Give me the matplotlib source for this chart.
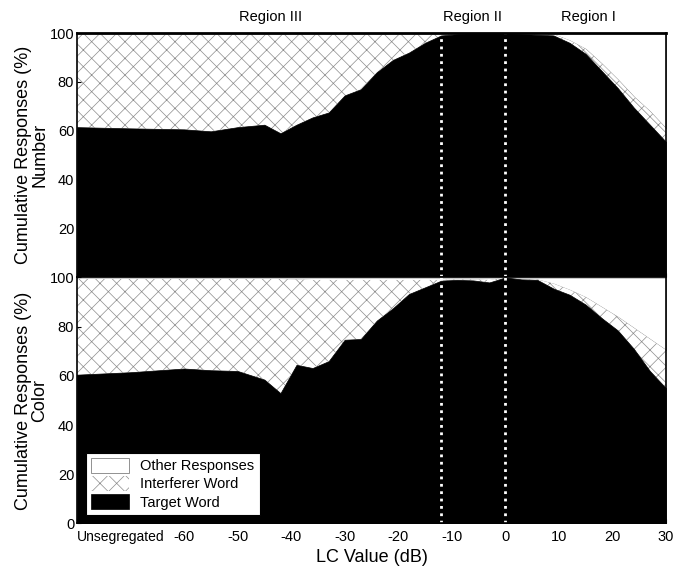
import numpy as np
import matplotlib.pyplot as plt

# LC value (dB); -80 stands for the "Unsegregated" condition
lc = [-80, -70, -60, -55, -50, -45, -42, -39, -36, -33, -30, -27, -24, -21, -18,
      -15, -12, -9, -6, -3, 0, 3, 6, 9, 12, 15, 18, 21, 24, 27, 30]

# cumulative % : target word, target + interferer word (rest = other responses)
num_target = [61.5, 61, 60.6, 59.8, 61.5, 62.5, 59, 62.5, 65.5, 67.5, 74.5, 77, 84, 89, 92,
              96, 99, 99.5, 100, 100, 100, 99.5, 99.3, 99, 96, 91.5, 84.5, 77.5, 69.5, 62.5, 55.5]
num_interf = [99.4, 99.4, 99.4, 99.4, 99.4, 99.4, 99.4, 99.4, 99.4, 99.4, 99.4, 99.4, 99.4, 99.4, 99.4,
              99.4, 99.6, 99.8, 100, 100, 100, 99.8, 99.6, 99.5, 97, 93.5, 87.5, 81, 74, 68, 61]

col_target = [60.5, 61.5, 63, 62.3, 62, 58.5, 53, 64.5, 63.2, 66, 74.7, 75, 82.5, 87.5, 93.3,
              96, 98.7, 99, 98.8, 98, 100, 99.2, 99, 95.5, 93, 89, 83.5, 78.5, 71, 62, 55]
col_interf = [99.4, 99.4, 99.4, 99.4, 99.4, 99.4, 99.4, 99.2, 99, 99, 99, 99, 99, 99, 99,
              99, 99, 99.2, 99.2, 99, 100, 99.4, 99.2, 97.5, 95, 92, 88, 84, 79.5, 75, 70.5]

xticks = [-80, -60, -50, -40, -30, -20, -10, 0, 10, 20, 30]
xticklabels = ['Unsegregated', '-60', '-50', '-40', '-30', '-20', '-10', '0', '10', '20', '30']
regions = ['Region III', 'Region II', 'Region I']
region_x = [-43.8, -6.1, 15.6]
boundaries = [-12, 0]

plt.rcParams['font.family'] = ['Liberation Sans', 'DejaVu Sans']
plt.rcParams['hatch.linewidth'] = 0.5

fig = plt.figure(figsize=(6.86, 5.75), dpi=100)
ax1 = fig.add_axes([0.1122, 0.5174, 0.8586, 0.4252])
ax2 = fig.add_axes([0.1122, 0.0896, 0.8586, 0.4278])


def draw_panel(ax, target, interf, name, yticks):
    ax.fill_between(lc, interf, 100, facecolor='white', edgecolor='0.5', linewidth=0.6,
                    label='Other Responses')
    ax.fill_between(lc, target, interf, facecolor='white', edgecolor='0.55', hatch='xx',
                    linewidth=0, label='Interferer Word')
    ax.fill_between(lc, 0, target, facecolor='black', edgecolor='black', linewidth=0.5,
                    label='Target Word')
    for b in boundaries:
        ax.axvline(b, color='white', linestyle=':', linewidth=2)
    ax.set_xlim(-80, 30)
    ax.set_ylim(0, 100)
    ax.set_yticks(yticks)
    ax.tick_params(axis='both', direction='in', length=3, labelsize=10.5, pad=2)
    ax.set_ylabel('Cumulative Responses (%)\n' + name, fontsize=13,
                  linespacing=0.95, labelpad=1)
    for s in ax.spines.values():
        s.set_linewidth(1.2)


draw_panel(ax1, num_target, num_interf, 'Number', [20, 40, 60, 80, 100])
draw_panel(ax2, col_target, col_interf, 'Color', [0, 20, 40, 60, 80, 100])
ax1.spines['top'].set_linewidth(2)

ax1.set_xticks(xticks)
ax1.set_xticklabels([])
ax2.set_xticks(xticks)
ax2.set_xticklabels(xticklabels)
ax2.tick_params(axis='x', labelsize=10.5, pad=5)
lbl = ax2.get_xticklabels()[0]
lbl.set_horizontalalignment('left')
lbl.set_fontsize(10)
ax2.set_xlabel('LC Value (dB)', fontsize=13, labelpad=3)

for r, x in zip(regions, region_x):
    ax1.text(x, 103.5, r, ha='center', va='bottom', fontsize=10.5)

leg = ax2.legend(loc='lower left', bbox_to_anchor=(0.0, 0.0), fontsize=10.5,
                 frameon=True, fancybox=False, edgecolor='black', framealpha=1,
                 handlelength=2.6, handleheight=1.2, borderpad=0.35, labelspacing=0.2,
                 handletextpad=0.8, borderaxespad=0.6)
leg.get_frame().set_linewidth(0.8)

fig.savefig('out.png', dpi=100)
